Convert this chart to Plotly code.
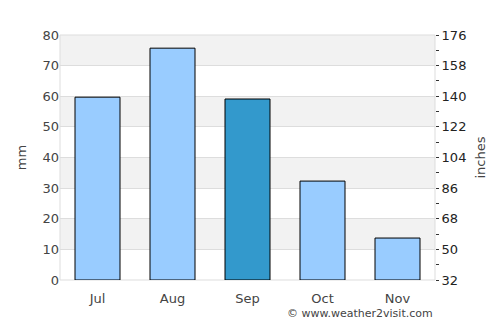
import plotly.graph_objects as go

months = ["Jul", "Aug", "Sep", "Oct", "Nov"]
rain_mm = [59.7, 75.7, 59.1, 32.3, 13.7]
bar_colors = ["#99ccff", "#99ccff", "#3399cc", "#99ccff", "#99ccff"]
left_ticks = [0, 10, 20, 30, 40, 50, 60, 70, 80]
right_ticks = [32, 50, 68, 86, 104, 122, 140, 158, 176]

font_family = "DejaVu Sans"
tick_color = "#444444"

fig = go.Figure()
fig.add_trace(go.Bar(
    x=months, y=rain_mm, width=0.6,
    marker=dict(color=bar_colors, line=dict(color="black", width=1)),
    hoverinfo="skip",
))
# invisible trace to activate right axis
fig.add_trace(go.Scatter(x=months, y=[None]*len(months), yaxis="y2",
                         showlegend=False, hoverinfo="skip"))

shapes = []
for i in range(len(left_ticks) - 1):
    if i % 2 == 1:
        shapes.append(dict(type="rect", xref="paper", yref="y", layer="below",
                           x0=0, x1=1, y0=left_ticks[i], y1=left_ticks[i + 1],
                           fillcolor="#f2f2f2", line=dict(width=0)))
shapes.append(dict(type="rect", xref="paper", yref="paper", x0=0, x1=1, y0=0, y1=1,
                   line=dict(color="#dddddd", width=1), layer="below"))

fig.update_layout(
    width=500, height=325,
    margin=dict(l=60, r=65, t=35, b=45),
    paper_bgcolor="white", plot_bgcolor="white",
    showlegend=False,
    bargap=0.4,
    font=dict(family=font_family, size=13, color=tick_color),
    shapes=shapes,
    xaxis=dict(showgrid=False, showline=False, ticks="", ticklabelstandoff=9,
               tickfont=dict(size=13, color=tick_color), fixedrange=True),
    yaxis=dict(range=[0, 80], tickvals=left_ticks, showgrid=True,
               gridcolor="#dddddd", gridwidth=1, zeroline=False,
               title=dict(text="mm", font=dict(size=13, color=tick_color), standoff=12),
               tickfont=dict(size=13, color=tick_color)),
    yaxis2=dict(range=[32, 176], tickvals=right_ticks, overlaying="y", side="right",
                showgrid=False, zeroline=False, ticks="outside", ticklen=3,
                tickcolor="#333333",
                minor=dict(tickvals=[41, 59, 77, 95, 113, 131, 149, 167],
                           ticks="outside", ticklen=3, tickcolor="#333333"),
                title=dict(text="inches", font=dict(size=13, color=tick_color), standoff=10),
                tickfont=dict(size=13, color="#222222")),
    annotations=[dict(text="© www.weather2visit.com", xref="paper", yref="paper",
                      x=1, y=-0.135, xanchor="right", yanchor="middle", showarrow=False,
                      font=dict(size=11, color="#444444"))],
)

fig.write_html("out.html")
